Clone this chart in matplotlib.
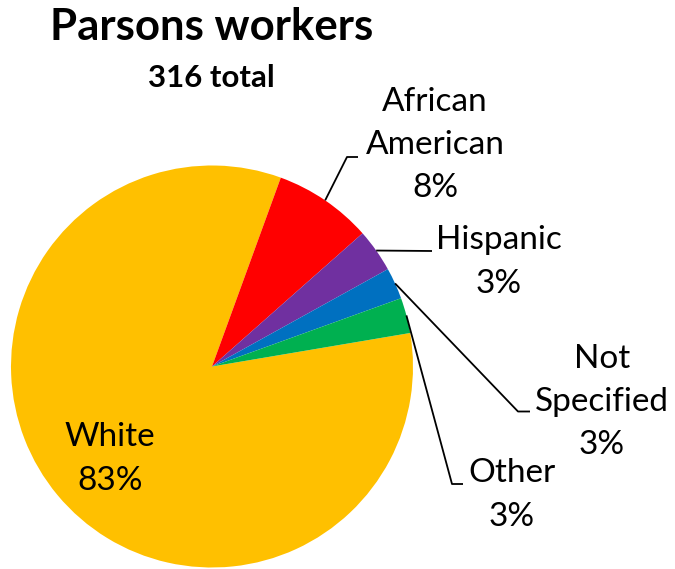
import numpy as np
import matplotlib
matplotlib.use("Agg")
import matplotlib.pyplot as plt

# data (316 workers)
GROUPS = ["White", "African\nAmerican", "Hispanic", "Not\nSpecified", "Other"]
COUNTS = [263, 25, 11, 8, 9]
COLORS = ["#FFC000", "#FF0000", "#7030A0", "#0070C0", "#00B050"]

TITLE = "Parsons workers"
SUBTITLE = f"{sum(COUNTS)} total"

W, H = 675, 569
CENTER = (212, H - 366.5)
RADIUS = 201

# label layout in pixel coords (x, y from top); elbow = where leader bends, None = inside
LABEL_POS = [(110, 459), (435, 145), (499, 262), (602, 402), (512, 495)]
ELBOWS = [None, [(347, 157), (358, 157)], [(432, 251)],
          [(518, 411.5), (530, 411.5)], [(452, 484), (463, 484)]]

plt.rcParams["font.family"] = ["Lato", "DejaVu Sans"]

fig = plt.figure(figsize=(W / 100, H / 100), dpi=100)
ax = fig.add_axes([0, 0, 1, 1])

wedges, _ = ax.pie(COUNTS, colors=COLORS, startangle=9.6, counterclock=False,
                   center=CENTER, radius=RADIUS, frame=True,
                   wedgeprops=dict(linewidth=0))
ax.set_xlim(0, W)
ax.set_ylim(0, H)
ax.axis("off")

total = sum(COUNTS)
for w, name, n, pos, elbow in zip(wedges, GROUPS, COUNTS, LABEL_POS, ELBOWS):
    pct = round(100 * n / total)
    ax.text(pos[0], H - pos[1], f"{name}\n{pct}%", ha="center", va="center",
            fontsize=24, linespacing=1.55, color="black")
    if elbow is None:
        continue
    mid = np.deg2rad((w.theta1 + w.theta2) / 2)
    xs = [CENTER[0] + RADIUS * np.cos(mid)] + [p[0] for p in elbow]
    ys = [CENTER[1] + RADIUS * np.sin(mid)] + [H - p[1] for p in elbow]
    ax.plot(xs, ys, color="black", linewidth=1.3, solid_capstyle="butt")

ax.text(212, H - 27, TITLE, ha="center", va="center", fontsize=31.5,
        fontweight="bold")
ax.text(211, H - 78, SUBTITLE, ha="center", va="center", fontsize=22.5,
        fontweight="bold")

fig.savefig("out.png", dpi=100)
